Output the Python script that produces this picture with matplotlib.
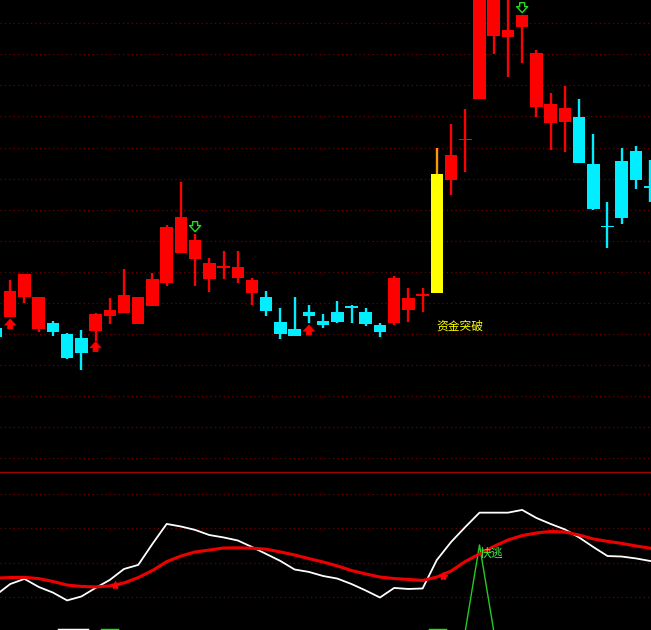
import matplotlib
matplotlib.use('Agg')
import matplotlib.pyplot as plt
import numpy as np

# K-line data, one entry per bar (index 0..46)
opens = [15.2, 16.35, 18.3, 15.13, 15.7, 14.63, 14.2, 14.88, 16.43, 16.73,
         15.6, 17.4, 19.75, 22.73, 22.1, 20.1, 21.3, 20.17, 18.67, 18.33,
         15.83, 15.1, 16.85, 15.93, 16.83, 17.33, 16.8, 15.5, 15.67, 17.0,
         18.48, 18.67, 30.0, 34.05, 38.1, 44.4, 44.33, 45.33, 37.33, 35.73,
         35.83, 36.33, 31.6, 25.37, 31.9, 32.9, 29.35]
highs = [15.5, 20.0, 20.65, 18.35, 15.95, 14.73, 15.0, 16.73, 18.23, 21.13,
         18.33, 20.73, 25.5, 29.83, 24.63, 22.17, 22.9, 22.9, 20.17, 18.9,
         17.17, 18.27, 17.5, 16.57, 17.9, 17.5, 17.17, 15.67, 20.43, 19.17,
         19.17, 33.17, 35.6, 37.07, 49.5, 49.0, 48.8, 46.5, 43.0, 38.73,
         39.4, 38.1, 34.6, 27.83, 33.17, 33.43, 32.0]
lows = [14.0, 16.27, 17.75, 14.85, 14.4, 12.1, 11.03, 13.9, 15.6, 16.73,
        15.6, 17.4, 19.4, 22.73, 19.43, 18.77, 20.1, 19.67, 17.5, 16.4,
        14.1, 14.4, 15.67, 15.17, 15.67, 15.73, 15.45, 14.33, 15.5, 15.83,
        16.83, 18.67, 28.5, 30.83, 38.1, 42.57, 40.33, 41.73, 36.27, 33.0,
        32.83, 31.73, 27.0, 23.2, 25.6, 29.07, 27.8]
closes = [14.3, 18.93, 20.63, 18.33, 14.85, 12.25, 12.68, 16.62, 17.0, 18.47,
          18.33, 20.13, 25.33, 26.33, 24.0, 21.73, 21.33, 21.33, 20.0, 16.9,
          14.6, 14.43, 16.45, 15.5, 15.83, 17.3, 15.6, 14.83, 20.17, 18.17,
          18.5, 30.6, 32.5, 34.07, 49.5, 48.5, 45.0, 46.5, 42.67, 37.6,
          37.23, 31.73, 27.1, 25.33, 26.23, 30.0, 29.33]

breakout_idx = 31          # yellow bar, "资金突破"
buy_idx = [1, 7, 22]       # red up arrows
buy_tip = [16.1, 13.83, 15.5]
sell_idx = [14, 37]        # green hollow down arrows
sell_tip = [24.83, 46.73]

# lower indicator panel
white_line = [21.0, 27.4, 30.4, 25.7, 22.4, 17.8, 20.1, 25.1, 29.8, 36.2,
              38.6, 50.9, 62.6, 61.1, 59.1, 56.1, 54.7, 52.9, 49.1, 45.0,
              40.9, 35.9, 34.5, 32.1, 30.6, 27.4, 23.6, 19.5, 25.1, 24.5,
              24.8, 41.5, 52.0, 60.8, 69.2, 69.2, 69.2, 70.8, 66.1, 62.6,
              59.4, 54.7, 49.1, 43.8, 43.5, 42.4, 40.9]
red_line = [30.9, 31.2, 31.3, 30.6, 28.9, 26.8, 26.0, 25.7, 26.3, 28.0,
            31.2, 35.3, 40.5, 43.8, 46.2, 47.3, 48.5, 48.6, 48.4, 47.8,
            46.2, 44.4, 42.3, 40.3, 38.0, 35.3, 33.3, 31.5, 30.6, 30.1,
            29.5, 31.5, 35.0, 40.6, 45.0, 49.4, 53.2, 55.8, 57.3, 58.2,
            57.9, 56.1, 53.8, 52.4, 51.2, 49.7, 48.4]
cross_x = [8.37, 31.45]
cross_y = [26.8, 32.1]
spike_x = [33, 34, 35]
spike_y = [0.0, 50.3, 0.0]
escape_idx = 34
escape_val = 45.2
edge_white = [(4.43, 6.4)]
edge_green = [(7.45, 8.5), (30.5, 31.6)]

plt.rcParams['font.family'] = ['Noto Sans CJK SC', 'DejaVu Sans']

fig = plt.figure(figsize=(6.51, 6.30), dpi=100, facecolor='black')
split = 159 / 630
ax = fig.add_axes([0, split, 1, 1 - split])
ax2 = fig.add_axes([0, 0, 1, split])
for a in (ax, ax2):
    a.set_facecolor('black')
    for s in a.spines.values():
        s.set_visible(False)
    a.set_xticks([])
    a.set_yticks([])

xlim = (0.28, 46.06)
ax.set_xlim(*xlim)
ax.set_ylim(0.9, 48)
ax2.set_xlim(*xlim)
ax2.set_ylim(0.47, 93.6)

grid_kw = dict(color='#700000', lw=0.9, linestyle=(0, (1, 2.5)), zorder=0)
for g in 45.67 - 3.105 * np.arange(15):
    ax.axhline(g, **grid_kw)
for g in [20, 40, 60, 80]:
    ax2.axhline(g, **grid_kw)
ax2.axhline(92.9, color='#a00000', lw=1.0, zorder=1)

x = np.arange(len(opens))
o = np.array(opens)
c = np.array(closes)
up = c >= o
colors = np.where(up, '#ff0000', '#00eeff').astype(object)
colors[breakout_idx] = '#ffff00'
wick_colors = colors.copy()
wick_colors[breakout_idx] = '#ff9900'

ax.vlines(x, lows, highs, colors=list(wick_colors), lw=1.7, zorder=2)
bottom = np.minimum(o, c)
height = np.maximum(np.abs(c - o), 0.18)
bottom = np.where(np.abs(c - o) < 0.18, (o + c) / 2 - 0.09, bottom)
ax.bar(x, height, bottom=bottom, width=0.88, color=list(colors), zorder=3)

for i, t in zip(buy_idx, buy_tip):
    ax.annotate('', xy=(i, t), xytext=(0, -10), textcoords='offset pixels',
                arrowprops=dict(arrowstyle='simple,head_length=0.55,head_width=1.0,tail_width=0.45',
                                fc='#ff0000', ec='#ff0000', lw=0.5, mutation_scale=8,
                                shrinkA=0, shrinkB=0), zorder=4)
for i, t in zip(sell_idx, sell_tip):
    ax.annotate('', xy=(i, t), xytext=(0, 10), textcoords='offset pixels',
                arrowprops=dict(arrowstyle='simple,head_length=0.55,head_width=1.0,tail_width=0.45',
                                fc='none', ec='#22dd22', lw=1.0, mutation_scale=8,
                                shrinkA=0, shrinkB=0), zorder=4)

ax.text(breakout_idx, 15.4, '资金突破', color='#ffff00', fontsize=8.5,
        ha='left', va='center', zorder=5)

# lower panel
ax2.plot(x, white_line, color='white', lw=1.3, zorder=3)
ax2.plot(x, red_line, color='#ee0000', lw=2.2, zorder=4)
ax2.plot(cross_x, cross_y, ls='none', marker='*', ms=6, color='#ff0000', zorder=5)
ax2.plot(spike_x, spike_y, color='#22cc22', lw=1.0, zorder=2)
ax2.text(escape_idx, escape_val, '快逃', color='#44ee44', fontsize=8.5,
         ha='left', va='center', zorder=6)
for a0, a1 in edge_white:
    ax2.plot([a0, a1], [0.47, 0.47], color='white', lw=2.5, zorder=2)
for a0, a1 in edge_green:
    ax2.plot([a0, a1], [0.47, 0.47], color='#33cc33', lw=2.5, zorder=2)

fig.savefig('out.png', dpi=100, facecolor='black')
